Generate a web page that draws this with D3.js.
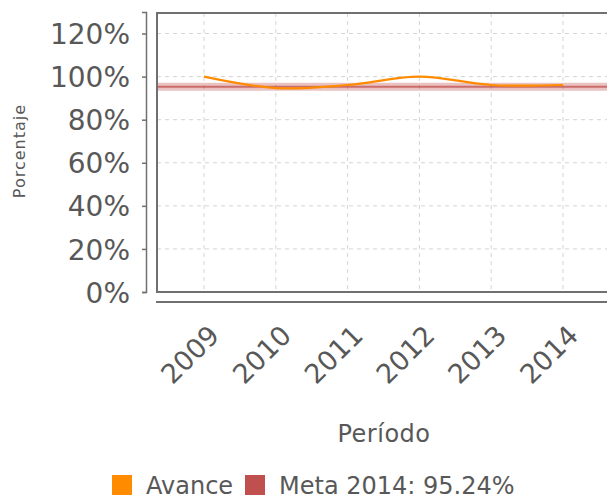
<!DOCTYPE html>
<html>
<head>
<meta charset="utf-8">
<script src="https://cdn.jsdelivr.net/npm/d3@7"></script>
<style>
  body { margin: 0; background: #fff; }
  svg text { font-family: "DejaVu Sans", sans-serif; fill: #585858; }
</style>
</head>
<body>
<svg id="chart"></svg>
<script>
// datos
let years = ["2009", "2010", "2011", "2012", "2013", "2014"];
let avance = [100, 94.7, 96.1, 100, 96.1, 96.1];
let metaValue = [95.24];
let yTicks = [0, 20, 40, 60, 80, 100, 120];
let seriesNames = ["Avance", "Meta 2014: " + metaValue[0] + "%"];
let seriesColors = ["#ff8c00", "#c0504d"];

let width = 607;
let height = 500;

let svg = d3.select("#chart")
    .attr("width", width)
    .attr("height", height);

let plotLeft = 157, plotTop = 13, plotRight = 620, plotBottom = 292;

let x = d3.scalePoint().domain(years).range([204, 563]);
let y = d3.scaleLinear().domain([0, 130]).range([292, 12]);

// grid
let grid = svg.append("g").attr("id", "grid");
grid.selectAll("line.h")
    .data(yTicks)
    .enter()
    .append("line")
    .attr("class", "h")
    .attr("x1", plotLeft).attr("x2", plotRight)
    .attr("y1", d => y(d)).attr("y2", d => y(d))
    .attr("stroke", "#d4d4d4")
    .attr("stroke-dasharray", "4,4");
grid.selectAll("line.v")
    .data(years)
    .enter()
    .append("line")
    .attr("class", "v")
    .attr("x1", d => x(d)).attr("x2", d => x(d))
    .attr("y1", plotTop).attr("y2", plotBottom)
    .attr("stroke", "#d4d4d4")
    .attr("stroke-dasharray", "4,4");

// meta line (banda + linea central)
let meta = svg.append("g").attr("id", "meta");
meta.selectAll("line")
    .data([{w: 8, o: 0.35}, {w: 2, o: 0.75}])
    .enter()
    .append("line")
    .attr("x1", plotLeft).attr("x2", plotRight)
    .attr("y1", y(metaValue[0])).attr("y2", y(metaValue[0]))
    .attr("stroke", seriesColors[1])
    .attr("stroke-width", d => d.w)
    .attr("stroke-opacity", d => d.o);

// avance
let line = d3.line()
    .x((d, i) => x(years[i]))
    .y(d => y(d))
    .curve(d3.curveCatmullRom.alpha(0.5));
svg.append("path")
    .datum(avance)
    .attr("d", line)
    .attr("fill", "none")
    .attr("stroke", seriesColors[0])
    .attr("stroke-width", 2.2);

// frame
svg.append("rect")
    .attr("x", plotLeft).attr("y", plotTop)
    .attr("width", plotRight - plotLeft).attr("height", plotBottom - plotTop)
    .attr("fill", "none")
    .attr("stroke", "#707070")
    .attr("stroke-width", 2);

// y axis
let yAxis = svg.append("g")
    .attr("transform", "translate(146,0)")
    .call(d3.axisLeft(y).tickValues(yTicks).tickSize(4).tickSizeOuter(4).tickPadding(12)
        .tickFormat(d => d + "%"));
yAxis.selectAll("path, line").attr("stroke", "#707070").attr("stroke-width", 1.5);
yAxis.selectAll("text")
    .attr("font-size", "28px")
    .attr("fill", "#585858")
    .attr("dy", "0.36em")
    .style("font-family", "DejaVu Sans");

// x axis line
svg.append("line")
    .attr("x1", 156).attr("x2", plotRight)
    .attr("y1", 302).attr("y2", 302)
    .attr("stroke", "#707070")
    .attr("stroke-width", 2);

svg.append("g").attr("id", "xlabels")
    .selectAll("text")
    .data(years)
    .enter()
    .append("text")
    .text(d => d)
    .attr("transform", d => "translate(" + (x(d) + 17) + ",337) rotate(-45)")
    .attr("text-anchor", "end")
    .attr("font-size", "27px");

// axis titles
svg.append("text")
    .text("Período")
    .attr("x", 384).attr("y", 442)
    .attr("text-anchor", "middle")
    .attr("font-size", "24px")
    .attr("letter-spacing", "0.5px");

svg.append("text")
    .text("Porcentaje")
    .attr("transform", "translate(25,151) rotate(-90)")
    .attr("text-anchor", "middle")
    .attr("font-size", "16px")
    .attr("letter-spacing", "1px");

// legend
let legendX = [112, 245];
let legend = svg.append("g").attr("id", "legend")
    .selectAll("g")
    .data(seriesNames)
    .enter()
    .append("g")
    .attr("transform", (d, i) => "translate(" + legendX[i] + ",475)");
legend.append("rect")
    .attr("width", 20).attr("height", 20)
    .attr("fill", (d, i) => seriesColors[i]);
legend.append("text")
    .text(d => d)
    .attr("x", 34).attr("y", 19)
    .attr("font-size", "24px");
</script>
</body>
</html>
